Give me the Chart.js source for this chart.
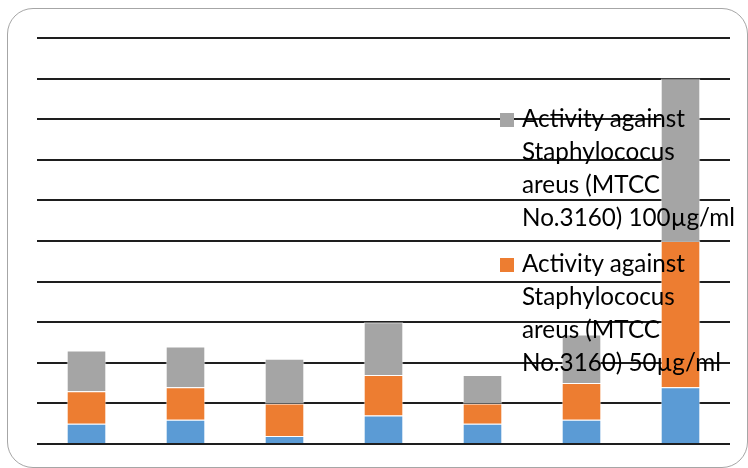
<!DOCTYPE html>
<html>
<head>
<meta charset="utf-8">
<script src="https://cdn.jsdelivr.net/npm/chart.js@4/dist/chart.umd.min.js"></script>
<style>
  html, body { margin: 0; padding: 0; background: #fff; }
  #wrap { position: relative; width: 748px; height: 468px; overflow: hidden; }
  #frame {
    position: absolute; left: 7px; top: 8px; width: 741px; height: 460px;
    border: 1.5px solid #a6a6a6; border-radius: 26px; box-sizing: border-box;
  }
  #chart { position: absolute; left: 0; top: 0; }
  #legend { position: absolute; left: 0; top: 0; width: 748px; height: 468px; pointer-events: none; }
  .lg-box { position: absolute; width: 14px; height: 14px; }
  .lg-line {
    position: absolute; white-space: nowrap; color: #000; line-height: 1;
    font-family: Lato, "Open Sans", sans-serif;
  }
  .lg-mark { display: inline-block; width: 0; height: 0; }
</style>
</head>
<body>
<div id="wrap">
  <div id="frame"></div>
  <canvas id="chart" width="748" height="468"></canvas>
  <div id="legend"></div>
</div>
<script>
// Samples along the category axis (no labels are printed for them)
const categories = ['1', '2', '3', '4', '5', '6', '7'];

// Stacked activity values, bottom segment first
const activityLow = [0.5, 0.6, 0.2, 0.7, 0.5, 0.6, 1.4];
const activity50  = [0.8, 0.8, 0.8, 1.0, 0.5, 0.9, 3.6];
const activity100 = [1.0, 1.0, 1.1, 1.3, 0.7, 1.2, 4.0];

// Value axis: gridlines at every whole unit
const yMin = 0;
const yMax = 10;
const yStep = 1;

// Series names, split the way they wrap in the legend
const nameLow = ['Activity against', 'Staphylococus', 'areus (MTCC', 'No.3160)'];
const name50  = ['Activity against', 'Staphylococus', 'areus (MTCC', 'No.3160) 50µg/ml'];
const name100 = ['Activity against', 'Staphylococus', 'areus (MTCC', 'No.3160) 100µg/ml'];

const colors = { low: '#5b9bd5', mid: '#ed7d31', high: '#a5a5a5' };

const edge = 'rgba(255,255,255,0.65)';

const chart = new Chart(document.getElementById('chart'), {
  type: 'bar',
  data: {
    labels: categories,
    datasets: [
      { label: nameLow.join(' '), data: activityLow, backgroundColor: colors.low, borderColor: edge, borderWidth: 1 },
      { label: name50.join(' '),  data: activity50,  backgroundColor: colors.mid, borderColor: edge, borderWidth: 1 },
      { label: name100.join(' '), data: activity100, backgroundColor: colors.high, borderColor: edge, borderWidth: 1 }
    ]
  },
  options: {
    responsive: false,
    animation: false,
    layout: { padding: { left: 37, right: 18, top: 38, bottom: 24 } },
    datasets: { bar: { categoryPercentage: 1.0, barPercentage: 0.4 } },
    plugins: { legend: { display: false }, tooltip: { enabled: false } },
    scales: {
      x: { stacked: true, display: false },
      y: {
        stacked: true, min: yMin, max: yMax,
        ticks: { display: false, stepSize: yStep },
        grid: { color: '#1e1e1e', lineWidth: 2, drawTicks: false },
        border: { display: false }
      }
    }
  }
});

// Legend drawn over the plot, to the right; the bottom series entry falls outside
const legendEntries = [
  { lines: name100, color: colors.high, boxTop: 113 },
  { lines: name50,  color: colors.mid,  boxTop: 258 }
];

function buildLegend() {
  const host = document.getElementById('legend');
  // size the type so the first line spans 163px
  const probe = document.createElement('span');
  probe.className = 'lg-line';
  probe.style.fontSize = '20px';
  probe.textContent = 'Activity against';
  host.appendChild(probe);
  const fontSize = 20 * 163 / probe.getBoundingClientRect().width;
  host.removeChild(probe);

  const lineStep = 33;
  legendEntries.forEach(entry => {
    const box = document.createElement('div');
    box.className = 'lg-box';
    box.style.left = '500px';
    box.style.top = entry.boxTop + 'px';
    box.style.background = entry.color;
    host.appendChild(box);

    entry.lines.forEach((txt, i) => {
      const line = document.createElement('div');
      line.className = 'lg-line';
      line.style.fontSize = fontSize + 'px';
      line.style.left = '522px';
      line.style.top = '0px';
      line.appendChild(document.createTextNode(txt));
      const mark = document.createElement('span');
      mark.className = 'lg-mark';
      line.appendChild(mark);
      host.appendChild(line);
      const baseline = mark.offsetTop;
      const wanted = entry.boxTop + 14 + i * lineStep;
      line.style.top = (wanted - baseline) + 'px';
    });
  });
}

if (document.fonts && document.fonts.ready) {
  document.fonts.ready.then(buildLegend);
} else {
  buildLegend();
}
</script>
</body>
</html>
